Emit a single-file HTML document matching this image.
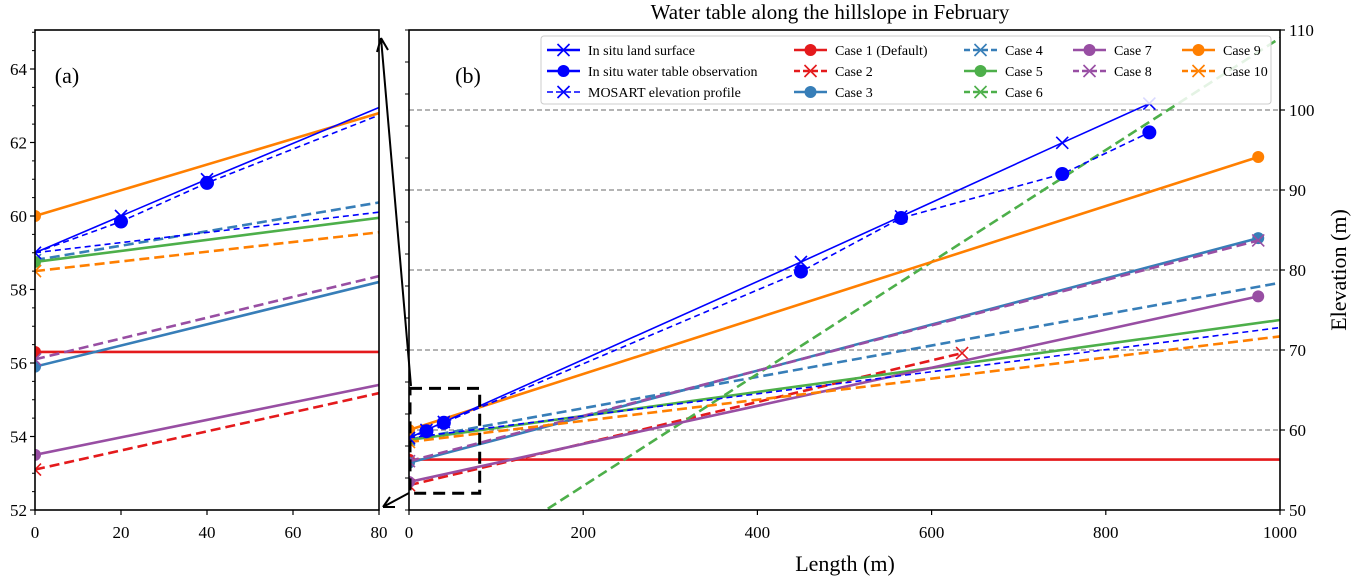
<!DOCTYPE html>
<html><head><meta charset="utf-8">
<style>
html,body{margin:0;padding:0;background:#fff;overflow:hidden;width:1357px;height:578px;}
svg{display:block;font-family:"Liberation Serif",serif;overflow:hidden;}
</style></head>
<body>
<svg id="chart" width="1357" height="578" viewBox="0 0 1357 578" xmlns="http://www.w3.org/2000/svg"></svg>
<script>
// ---- data ----
const seriesNames = ["Case 1 (Default)","Case 2","Case 3","Case 4","Case 5","Case 6","Case 7","Case 8","Case 9","Case 10"];
const seriesColors = ["#e41a1c","#e41a1c","#377eb8","#377eb8","#4daf4a","#4daf4a","#984ea3","#984ea3","#ff7f00","#ff7f00"];
const seriesDashed = [false,true,false,true,false,true,false,true,false,true];
const seriesMarker = ["o","x","o","x","o","x","o","x","o","x"];
const seriesStartY = [56.3,53.1,55.9,58.8,58.75,39.0,53.5,56.1,60.0,58.5];
const seriesSlope = [0,0.026,0.0288,0.0196,0.015,0.07,0.0238,0.0283,0.035,0.0132];
const seriesEndX = [1000,635,975,1000,1000,1000,975,975,975,1000];
const seriesEndMarker = [false,true,true,false,false,false,true,true,true,false];
const landX = [0,20,40,450,565,750,850];
const landY = [59,60,61,81,86.7,95.9,100.8];
const obsX = [0,20,40,450,565,750,850];
const obsY = [59,59.85,60.9,79.8,86.5,92.0,97.2];
const mosartX = [0,1000];
const mosartY = [59,72.8];
const aXTicks = [0,20,40,60,80];
const aYTicks = [52,54,56,58,60,62,64];
const bXTicks = [0,200,400,600,800,1000];
const bYTicks = [50,60,70,80,90,100,110];
const gridY = [60,70,80,90,100];

const svg = document.getElementById('chart');
const NS = "http://www.w3.org/2000/svg";
function mk(tag, attrs, parent){const e=document.createElementNS(NS,tag);for(const k in attrs)e.setAttribute(k,attrs[k]);(parent||svg).appendChild(e);return e;}

const A={x0:35,x1:379,y0:30,y1:510,xmin:0,xmax:80,ymin:52,ymax:52+480/36.75};
const B={x0:409,x1:1280,y0:30,y1:510,xmin:0,xmax:1000,ymin:50,ymax:110};
function sx(ax,v){return ax.x0+(v-ax.xmin)/(ax.xmax-ax.xmin)*(ax.x1-ax.x0);}
function sy(ax,v){return ax.y1-(v-ax.ymin)/(ax.ymax-ax.ymin)*(ax.y1-ax.y0);}

function clip(id,ax){const d=mk('defs',{});const c=mk('clipPath',{id:id},d);mk('rect',{x:ax.x0,y:ax.y0,width:ax.x1-ax.x0,height:ax.y1-ax.y0},c);}
clip('ca',A);clip('cb',B);

function marker(g,ax,type,x,y,color,size){
  const px=sx(ax,x),py=sy(ax,y);
  if(type==='o'){return mk('circle',{cx:px,cy:py,r:size||6,fill:color},g);}
  const s=size||6;
  return mk('path',{d:`M${px-s} ${py-s}L${px+s} ${py+s}M${px-s} ${py+s}L${px+s} ${py-s}`,stroke:color,'stroke-width':1.6,fill:'none'},g);
}

function drawPanel(ax,cid,isB){
  const g=mk('g',{'clip-path':`url(#${cid})`});
  
  
  if(isB){
    gridY.forEach(v=>{const l=mk('line',{x1:ax.x0,x2:ax.x1,y1:sy(ax,v),y2:sy(ax,v),stroke:'#888','stroke-width':1.2,'stroke-dasharray':'5,3'},g);
      
      });
  }
  seriesNames.forEach((n,i)=>{
    const x2=seriesEndX[i];
    const l=mk('line',{x1:sx(ax,0),y1:sy(ax,seriesStartY[i]),x2:sx(ax,x2),y2:sy(ax,seriesStartY[i]+seriesSlope[i]*x2),stroke:seriesColors[i],'stroke-width':2.6,'stroke-dasharray':seriesDashed[i]?'10,5':'none'},g);
    
    
    const m0=marker(g,ax,seriesMarker[i],0,seriesStartY[i],seriesColors[i],6);
    
    
    if(seriesEndMarker[i]){const m1=marker(g,ax,seriesMarker[i],x2,seriesStartY[i]+seriesSlope[i]*x2,seriesColors[i],6);
      
      }
  });
  const mo=mk('polyline',{points:mosartX.map((x,i)=>sx(ax,x)+','+sy(ax,mosartY[i])).join(' '),fill:'none',stroke:'#0000ff','stroke-width':1.6,'stroke-dasharray':'6,4'},g);
  
  
  const ob=mk('polyline',{points:obsX.map((x,i)=>sx(ax,x)+','+sy(ax,obsY[i])).join(' '),fill:'none',stroke:'#0000ff','stroke-width':1.6,'stroke-dasharray':'6,4'},g);
  
  
  const ls=mk('polyline',{points:landX.map((x,i)=>sx(ax,x)+','+sy(ax,landY[i])).join(' '),fill:'none',stroke:'#0000ff','stroke-width':1.6},g);
  
  
  landX.forEach((x,i)=>{const m=marker(g,ax,'x',x,landY[i],'#0000ff',6);
    
    });
  obsX.forEach((x,i)=>{if(i===0)return;const m=marker(g,ax,'o',x,obsY[i],'#0000ff',7);
    
    });
  const f=mk('rect',{x:ax.x0,y:ax.y0,width:ax.x1-ax.x0,height:ax.y1-ax.y0,fill:'none',stroke:'#000','stroke-width':1.6});
  
  
}
drawPanel(A,'ca',false);
drawPanel(B,'cb',true);

function txt(x,y,s,size,anchor,name,extra){const t=mk('text',Object.assign({x:x,y:y,'font-size':size,'text-anchor':anchor||'middle',fill:'#000'},extra||{}));t.textContent=s;
  
  return t;}
aXTicks.forEach(v=>{const x=sx(A,v);mk('line',{x1:x,x2:x,y1:A.y1,y2:A.y1+5,stroke:'#000','stroke-width':1.2});txt(x,A.y1+28,String(v),17,'middle','a-x-tick-label');});
aYTicks.forEach(v=>{const y=sy(A,v);mk('line',{x1:A.x0-5,x2:A.x0,y1:y,y2:y,stroke:'#000','stroke-width':1.2});txt(A.x0-8,y+6,String(v),17,'end','a-y-tick-label');});
for(let v=52;v<=65;v+=0.5){const y=sy(A,v);mk('line',{x1:A.x0-3,x2:A.x0,y1:y,y2:y,stroke:'#000','stroke-width':1});}
bXTicks.forEach(v=>{const x=sx(B,v);mk('line',{x1:x,x2:x,y1:B.y1,y2:B.y1+5,stroke:'#000','stroke-width':1.2});txt(x,B.y1+28,String(v),17,'middle','b-x-tick-label');});
bYTicks.forEach(v=>{const y=sy(B,v);mk('line',{x1:B.x1,x2:B.x1+5,y1:y,y2:y,stroke:'#000','stroke-width':1.2});txt(B.x1+9,y+6,String(v),17,'start','b-y-tick-label');});
for(let v=50;v<=110;v+=4){const y=sy(B,v);mk('line',{x1:B.x0-4,x2:B.x0,y1:y,y2:y,stroke:'#000','stroke-width':1});}

txt(67,83,'(a)',22,'middle','panel-a-label');
txt(468,83,'(b)',22,'middle','panel-b-label');
txt(830,19,'Water table along the hillslope in February',21,'middle','chart-title');
txt(845,571,'Length (m)',22,'middle','x-axis-title');
txt(1346,270,'Elevation (m)',22,'middle','y-axis-title',{transform:'rotate(-90 1346 270)'});

const zb=mk('rect',{x:sx(B,0)+1,y:sy(B,65.2),width:sx(B,80)-sx(B,0),height:sy(B,52.1)-sy(B,65.2),fill:'none',stroke:'#000','stroke-width':3,'stroke-dasharray':'12,7'});


const ar1=mk('path',{d:'M411 386 L381 38 M381 38 L377 52 M381 38 L388 50',stroke:'#000','stroke-width':2,fill:'none'});


const ar2=mk('path',{d:'M409 493 L383 507 M383 507 L390 497 M383 507 L395 507',stroke:'#000','stroke-width':2,fill:'none'});



const lg=mk('g',{});


mk('rect',{x:541,y:36,width:730,height:68,rx:3,fill:'#fff','fill-opacity':0.85,stroke:'#ccc','stroke-width':1},lg);
function legendEntry(x,y,color,dashed,mtype,label){
  const e=mk('g',{},lg);
  
  
  mk('line',{x1:x,x2:x+33,y1:y,y2:y,stroke:color,'stroke-width':dashed&&color==='#0000ff'?1.6:2.4,'stroke-dasharray':dashed?'6,3':'none'},e);
  const cx=x+16.5;
  if(mtype==='o')mk('circle',{cx:cx,cy:y,r:6,fill:color},e);
  else mk('path',{d:`M${cx-6} ${y-6}L${cx+6} ${y+6}M${cx-6} ${y+6}L${cx+6} ${y-6}`,stroke:color,'stroke-width':1.6},e);
  const t=mk('text',{x:x+41,y:y+5,'font-size':14,fill:'#000'},e);t.textContent=label;
}
legendEntry(547,50,'#0000ff',false,'x','In situ land surface');
legendEntry(547,71,'#0000ff',false,'o','In situ water table observation');
legendEntry(547,92,'#0000ff',true,'x','MOSART elevation profile');
seriesNames.forEach((n,i)=>{
  let col,row;
  if(i<3){col=0;row=i;}else if(i<6){col=1;row=i-3;}else if(i<8){col=2;row=i-6;}else{col=3;row=i-8;}
  const colX=[794,964,1073,1182][col];
  legendEntry(colX,50+row*21,seriesColors[i],seriesDashed[i],seriesMarker[i],n);
});
</script>
</body></html>
